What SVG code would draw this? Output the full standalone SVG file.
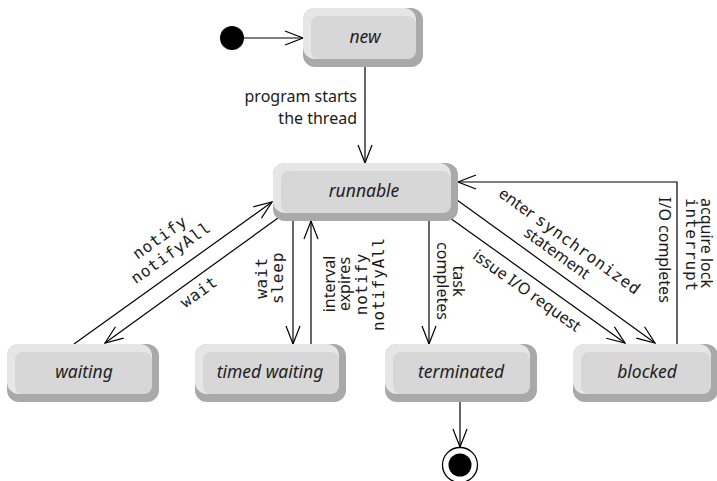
<svg xmlns="http://www.w3.org/2000/svg" width="717" height="481" viewBox="0 0 717 481">
<style>
.dk{fill:#a9a9a9}
.lt{fill:#e6e6e6}
.fc{fill:#d7d7d7}
.st{font-family:"Noto Sans","Open Sans",sans-serif;font-style:italic;font-size:17.5px;fill:#222;text-anchor:middle}
.lb{font-family:"Noto Sans","Open Sans",sans-serif;font-size:16px;fill:#1a1a1a}
.mo{font-family:"DejaVu Sans Mono",monospace;font-size:16px;letter-spacing:0.8px;fill:#1a1a1a}
.c{fill:none;stroke:#000;stroke-width:1.2}
</style>
<defs>
<marker id="arr" markerUnits="userSpaceOnUse" viewBox="0 0 20 16" refX="19" refY="8" markerWidth="20" markerHeight="16" orient="auto">
<path d="M1,1 L19,8 L1,15" fill="none" stroke="#000" stroke-width="1.2"/>
</marker>
</defs>
<rect width="717" height="481" fill="#fff"/>

<g id="connectors">
<path class="c" d="M244,38 L303,38" marker-end="url(#arr)"/>
<path class="c" d="M365,67 L365,163" marker-end="url(#arr)"/>
<path class="c" d="M74,344 L272,202" marker-end="url(#arr)"/>
<path class="c" d="M278,218 L105,343" marker-end="url(#arr)"/>
<path class="c" d="M293,221 L293,344" marker-end="url(#arr)"/>
<path class="c" d="M311,344 L311,221" marker-end="url(#arr)"/>
<path class="c" d="M429,221 L429,344" marker-end="url(#arr)"/>
<path class="c" d="M450,218 L625,343" marker-end="url(#arr)"/>
<path class="c" d="M457,200 L655,343" marker-end="url(#arr)"/>
<path class="c" d="M677,344 L677,182 L458,182" marker-end="url(#arr)"/>
<path class="c" d="M460,402 L460,447" marker-end="url(#arr)"/>
</g>

<g id="labels">
<text class="lb" text-anchor="end" x="357" y="102">program starts</text>
<text class="lb" text-anchor="end" x="357" y="124">the thread</text>
<g transform="translate(181,267) rotate(-35.6)">
<text class="mo" text-anchor="middle" x="0" y="-31">notify</text>
<text class="mo" text-anchor="middle" x="0" y="-12">notifyAll</text>
</g>
<g transform="translate(191,281) rotate(-35.9)">
<text class="mo" text-anchor="middle" x="0" y="19">wait</text>
</g>
<g transform="rotate(-90)">
<text class="mo" text-anchor="middle" x="-278" y="267">wait</text>
<text class="mo" text-anchor="middle" x="-278" y="283">sleep</text>
<text class="lb" text-anchor="middle" x="-284" y="335">interval</text>
<text class="lb" text-anchor="middle" x="-284" y="350">expires</text>
<text class="mo" text-anchor="middle" x="-284" y="367">notify</text>
<text class="mo" text-anchor="middle" x="-284" y="384">notifyAll</text>
</g>
<g transform="rotate(90)">
<text class="lb" text-anchor="middle" x="281" y="-453">task</text>
<text class="lb" text-anchor="middle" x="281" y="-437">completes</text>
<text class="lb" text-anchor="start" x="197" y="-659">I/O completes</text>
<text class="lb" text-anchor="start" x="198" y="-701">acquire lock</text>
<text class="mo" text-anchor="start" x="198" y="-686">interrupt</text>
</g>
<g transform="translate(550,267) rotate(35.8)">
<text text-anchor="middle" x="1" y="-27"><tspan class="lb">enter</tspan><tspan class="mo" dx="5">synchronized</tspan></text>
<text class="lb" text-anchor="middle" x="-2.5" y="-10">statement</text>
</g>
<g transform="translate(535.5,279) rotate(35.5)">
<text class="lb" text-anchor="middle" x="0" y="20">issue I/O request</text>
</g>
</g>

<g id="initial">
<circle cx="232" cy="38" r="12" fill="#000"/>
</g>

<g id="new">
<rect class="dk" x="303" y="8" width="120" height="59" rx="12"/>
<rect class="lt" x="303" y="8" width="113" height="51" rx="12"/>
<rect class="fc" x="311" y="16" width="105" height="43" rx="8"/>
<text class="st" x="365" y="43">new</text>
</g>

<g id="runnable">
<rect class="dk" x="273" y="163" width="185" height="58" rx="12"/>
<rect class="lt" x="273" y="163" width="178" height="50" rx="12"/>
<rect class="fc" x="281" y="171" width="170" height="42" rx="8"/>
<text class="st" x="364" y="197">runnable</text>
</g>

<g id="waiting">
<rect class="dk" x="7" y="344" width="152" height="58" rx="12"/>
<rect class="lt" x="7" y="344" width="145" height="50" rx="12"/>
<rect class="fc" x="15" y="352" width="137" height="42" rx="8"/>
<text class="st" x="84" y="378">waiting</text>
</g>

<g id="timed-waiting">
<rect class="dk" x="195" y="344" width="151" height="58" rx="12"/>
<rect class="lt" x="195" y="344" width="144" height="50" rx="12"/>
<rect class="fc" x="203" y="352" width="136" height="42" rx="8"/>
<text class="st" x="270" y="378">timed waiting</text>
</g>

<g id="terminated">
<rect class="dk" x="385" y="344" width="152" height="58" rx="12"/>
<rect class="lt" x="385" y="344" width="145" height="50" rx="12"/>
<rect class="fc" x="393" y="352" width="137" height="42" rx="8"/>
<text class="st" x="461" y="378">terminated</text>
</g>

<g id="blocked">
<rect class="dk" x="573" y="344" width="145" height="58" rx="12"/>
<rect class="lt" x="573" y="344" width="138" height="50" rx="12"/>
<rect class="fc" x="581" y="352" width="130" height="42" rx="8"/>
<text class="st" x="647" y="378">blocked</text>
</g>

<g id="final">
<circle cx="460" cy="465" r="17.5" fill="#fff" stroke="#000" stroke-width="1.3"/>
<circle cx="460" cy="465" r="11.5" fill="#000"/>
</g>
</svg>
